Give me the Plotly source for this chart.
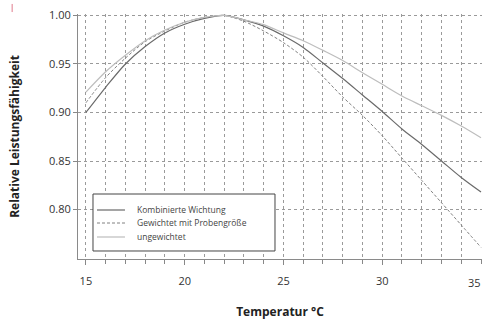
import plotly.graph_objects as go

temps = list(range(15, 36))
kombiniert = [0.900, 0.926, 0.950, 0.968, 0.982, 0.991, 0.997, 1.000, 0.9955, 0.989,
              0.979, 0.967, 0.951, 0.935, 0.918, 0.901, 0.883, 0.867, 0.850, 0.833, 0.818]
gewichtet = [0.910, 0.936, 0.956, 0.973, 0.984, 0.993, 0.998, 1.000, 0.994, 0.984,
             0.972, 0.957, 0.937, 0.916, 0.897, 0.876, 0.853, 0.830, 0.807, 0.784, 0.761]
ungewichtet = [0.921, 0.942, 0.959, 0.974, 0.985, 0.993, 0.998, 1.000, 0.9955, 0.9905,
               0.982, 0.974, 0.964, 0.9535, 0.941, 0.929, 0.917, 0.907, 0.897, 0.886, 0.874]
series_names = ["Kombinierte Wichtung", "Gewichtet mit Probengröße", "ungewichtet"]
y_ticks = [0.80, 0.85, 0.90, 0.95, 1.00]
y_ticktext = ["0.80", "0.85", "0.90", "0.95", "1.00"]
x_ticks = [15, 20, 25, 30]
x_last_tick = 35

styles = [dict(color="#6a6a6a", width=1.2),
          dict(color="#808080", width=1, dash="3px,2px"),
          dict(color="#bdbdbd", width=1.2)]

fig = go.Figure()
for name, vals, st in zip(series_names, [kombiniert, gewichtet, ungewichtet], styles):
    fig.add_trace(go.Scatter(x=temps, y=vals, mode="lines", name=name,
                             line=dict(shape="spline", smoothing=0.8, **st), showlegend=False))

grid = dict(gridcolor="#9a9a9a", griddash="dot", gridwidth=1)
fig.update_xaxes(range=[14.6, 35.05], tickvals=x_ticks, showgrid=True, **grid,
                 minor=dict(dtick=1, tick0=15, showgrid=True, gridcolor="#9a9a9a", griddash="dot",
                            ticks="outside", ticklen=4, tickcolor="#888"),
                 ticks="outside", ticklen=5, tickcolor="#888", ticklabelstandoff=7,
                 ticklabeloverflow="allow",
                 showline=True, linecolor="#8a8a8a", linewidth=1, zeroline=False, automargin=False,
                 title=dict(text="<b>Temperatur °C</b>", font=dict(size=12, color="#222"), standoff=34),
                 tickfont=dict(size=11, color="#333"))
fig.update_yaxes(range=[0.749, 1.0015], tickvals=y_ticks, ticktext=y_ticktext,
                 showgrid=True, **grid,
                 ticks="outside", ticklen=4, tickcolor="#888", ticklabeloverflow="allow",
                 showline=True, linecolor="#8a8a8a", linewidth=1, zeroline=False, automargin=False,
                 title=dict(text="<b>Relative Leistungsfähigkeit</b>", font=dict(size=12, color="#222"), standoff=26),
                 tickfont=dict(size=11, color="#333"))

# last x tick label, kept inside the picture edge
fig.add_annotation(xref="x", yref="paper", x=x_last_tick, y=0, text=str(x_last_tick), showarrow=False,
                   xanchor="right", yanchor="middle", xshift=2, yshift=-23,
                   font=dict(size=11, color="#333"))

# small red mark in the top-left corner of the source image
fig.add_shape(type="line", xref="paper", yref="paper", x0=-0.163, x1=-0.163, y0=1.008, y1=1.041,
              line=dict(color="#e07b8c", width=1))

# legend box drawn by hand
fig.add_shape(type="rect", xref="paper", yref="paper", x0=0.0371, x1=0.4876, y0=0.0327, y1=0.2653,
              line=dict(color="#444", width=1), fillcolor="white", layer="above")
for i, (name, st) in enumerate(zip(series_names, styles)):
    yy = [0.2000, 0.1469, 0.0898][i]
    fig.add_shape(type="line", xref="paper", yref="paper", x0=0.047, x1=0.1163, y0=yy, y1=yy,
                  line=st, layer="above")
    fig.add_annotation(xref="paper", yref="paper", x=0.1411, y=yy + 0.004, text=name, showarrow=False,
                       xanchor="left", yanchor="middle", font=dict(size=8.5, color="#444"))

fig.update_layout(
    width=483, height=320,
    margin=dict(l=78, r=1, t=14, b=61),
    paper_bgcolor="white", plot_bgcolor="white",
    font=dict(family="Open Sans, sans-serif", color="#333"),
    showlegend=False,
    hovermode=False,
)

fig.write_html("out.html", config={"displayModeBar": False, "staticPlot": True},
               post_script="document.body.style.margin='0';document.documentElement.style.overflow='hidden';document.body.style.overflow='hidden';")
